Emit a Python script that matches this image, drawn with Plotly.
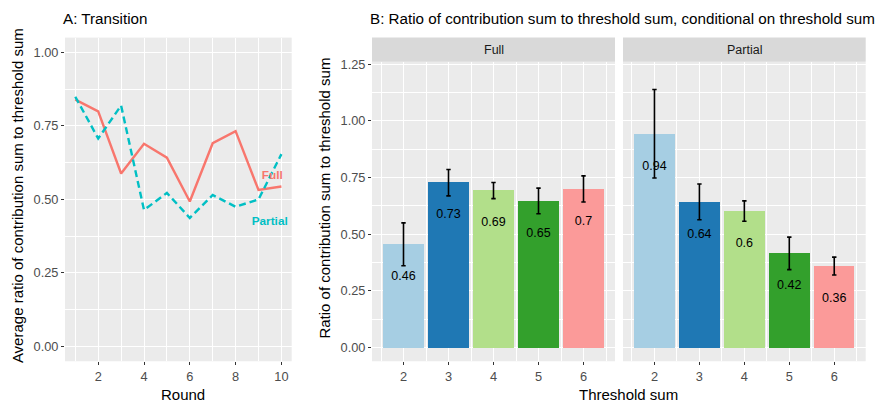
import plotly.graph_objects as go

# ---------------- data ----------------
rounds = [1, 2, 3, 4, 5, 6, 7, 8, 9, 10]
full_round = [0.839, 0.799, 0.588, 0.689, 0.642, 0.493, 0.691, 0.732, 0.532, 0.544]
partial_round = [0.849, 0.707, 0.819, 0.464, 0.522, 0.437, 0.515, 0.475, 0.500, 0.654]

series_labels = ["Full", "Partial"]
label_x = [9.6, 9.49]
label_y = [0.578, 0.422]

thresholds = [2, 3, 4, 5, 6]
full_ratio = [0.456, 0.730, 0.694, 0.648, 0.700]
full_hi = [0.550, 0.785, 0.728, 0.703, 0.757]
full_lo = [0.361, 0.669, 0.657, 0.590, 0.642]
partial_ratio = [0.943, 0.642, 0.603, 0.416, 0.360]
partial_hi = [1.138, 0.721, 0.647, 0.487, 0.399]
partial_lo = [0.748, 0.564, 0.557, 0.344, 0.320]

bar_colors = ["#A6CEE3", "#1F78B4", "#B2DF8A", "#33A02C", "#FB9A99"]
facet_names = ["Full", "Partial"]

W, H = 895, 405
FONT = "Liberation Sans, Arial, sans-serif"


def px(x):
    return x / W


def py(y):
    return 1 - y / H


fig = go.Figure()

# ---------------- Panel A ----------------
fig.add_trace(go.Scatter(x=rounds, y=full_round, mode="lines",
                         line=dict(color="#F8766D", width=2.4),
                         xaxis="x", yaxis="y", showlegend=False))
fig.add_trace(go.Scatter(x=rounds, y=partial_round, mode="lines",
                         line=dict(color="#00BFC4", width=2.4, dash="7px,4px"),
                         xaxis="x", yaxis="y", showlegend=False))
fig.add_trace(go.Scatter(x=label_x, y=label_y, mode="text",
                         text=["<b>%s</b>" % s for s in series_labels],
                         textfont=dict(color=["#F8766D", "#00BFC4"], size=11.8, family=FONT),
                         xaxis="x", yaxis="y", showlegend=False, hoverinfo="skip"))

# ---------------- Panel B ----------------
facet_data = [(full_ratio, full_hi, full_lo), (partial_ratio, partial_hi, partial_lo)]
axes = [("x2", "y2"), ("x3", "y3")]
for (vals, hi, lo), (xa, ya) in zip(facet_data, axes):
    fig.add_trace(go.Bar(x=thresholds, y=vals, width=0.9,
                         marker=dict(color=bar_colors, line=dict(width=0)),
                         xaxis=xa, yaxis=ya, showlegend=False))
    fig.add_trace(go.Scatter(x=thresholds, y=vals, mode="markers",
                             marker=dict(size=0.1, color="rgba(0,0,0,0)"),
                             error_y=dict(type="data", symmetric=False,
                                          array=[h - v for h, v in zip(hi, vals)],
                                          arrayminus=[v - l for v, l in zip(vals, lo)],
                                          color="#000000", thickness=1.6, width=2.2),
                             xaxis=xa, yaxis=ya, showlegend=False, hoverinfo="skip"))
    fig.add_trace(go.Scatter(x=thresholds, y=[v - 0.145 for v in vals], mode="text",
                             text=["%g" % round(v, 2) for v in vals],
                             textfont=dict(color="#000000", size=12.5, family=FONT),
                             xaxis=xa, yaxis=ya, showlegend=False, hoverinfo="skip"))

grid_major = dict(showgrid=True, gridcolor="#FFFFFF", gridwidth=1.3, zeroline=False,
                  ticklen=3, tickwidth=1, tickcolor="#333333",
                  tickfont=dict(size=12.8, color="#4D4D4D", family=FONT), showline=False)

dA_x = [px(65), px(291.7)]
dA_y = [py(360.7), py(33)]
dB_y = [py(360.7), py(57.5)]
dF_x = [px(372), px(615)]
dP_x = [px(623), px(865.7)]

minor = dict(showgrid=True, gridcolor="#FFFFFF", gridwidth=0.6, ticks="")

fig.update_layout(
    width=W, height=H, margin=dict(l=0, r=0, t=0, b=0),
    paper_bgcolor="#FFFFFF", plot_bgcolor="#EBEBEB",
    font=dict(family=FONT, color="#000000"),
    bargap=0,
    xaxis=dict(domain=dA_x, range=[0.55, 10.45], tickvals=[2, 4, 6, 8, 10], ticks="outside",
               minor=dict(tickvals=[1, 3, 5, 7, 9], **minor), anchor="y", **grid_major),
    yaxis=dict(domain=dA_y, range=[-0.05, 1.05], tickvals=[0, 0.25, 0.5, 0.75, 1.0], ticks="outside",
               ticktext=["0.00", "0.25", "0.50", "0.75", "1.00"],
               minor=dict(tickvals=[0.125, 0.375, 0.625, 0.875], **minor), anchor="x", **grid_major),
    xaxis2=dict(domain=dF_x, range=[1.3, 6.7], tickvals=thresholds, ticks="outside",
                minor=dict(tickvals=[1.5, 2.5, 3.5, 4.5, 5.5, 6.5], **minor), anchor="y2", **grid_major),
    yaxis2=dict(domain=dB_y, range=[-0.06, 1.26], tickvals=[0, 0.25, 0.5, 0.75, 1.0, 1.25],
                ticks="outside", ticktext=["0.00", "0.25", "0.50", "0.75", "1.00", "1.25"],
                minor=dict(tickvals=[0.125, 0.375, 0.625, 0.875, 1.125], **minor), anchor="x2", **grid_major),
    xaxis3=dict(domain=dP_x, range=[1.3, 6.7], tickvals=thresholds, ticks="outside",
                minor=dict(tickvals=[1.5, 2.5, 3.5, 4.5, 5.5, 6.5], **minor), anchor="y3", **grid_major),
    yaxis3=dict(domain=dB_y, range=[-0.06, 1.26], tickvals=[0, 0.25, 0.5, 0.75, 1.0, 1.25],
                showticklabels=False, ticks="",
                minor=dict(tickvals=[0.125, 0.375, 0.625, 0.875, 1.125], **minor), anchor="x3", **grid_major),
)

# strips
shapes = []
annotations = []
for name, dx in zip(facet_names, [dF_x, dP_x]):
    shapes.append(dict(type="rect", xref="paper", yref="paper", x0=dx[0], x1=dx[1],
                       y0=py(57.5), y1=py(33), fillcolor="#D9D9D9", line=dict(width=0), layer="below"))
    annotations.append(dict(text=name, xref="paper", yref="paper", x=(dx[0] + dx[1]) / 2, y=py(45.5),
                            showarrow=False, xanchor="center", yanchor="middle",
                            font=dict(size=12.5, color="#1A1A1A", family=FONT)))

# titles
annotations += [
    dict(text="A: Transition", xref="paper", yref="paper", x=px(61), y=py(14), xanchor="left",
         yanchor="middle", showarrow=False, font=dict(size=15.2, color="#000000", family=FONT)),
    dict(text="B: Ratio of contribution sum to threshold sum, conditional on threshold sum",
         xref="paper", yref="paper", x=px(368), y=py(14), xanchor="left",
         yanchor="middle", showarrow=False, font=dict(size=15.2, color="#000000", family=FONT)),
    dict(text="Round", xref="paper", yref="paper", x=px(183), y=py(394), xanchor="center",
         yanchor="middle", showarrow=False, font=dict(size=15, color="#000000", family=FONT)),
    dict(text="Threshold sum", xref="paper", yref="paper", x=px(628), y=py(394), xanchor="center",
         yanchor="middle", showarrow=False, font=dict(size=15, color="#000000", family=FONT)),
    dict(text="Average ratio of contribution sum to threshold sum", xref="paper", yref="paper",
         x=px(17.5), y=py(193), textangle=-90, xanchor="center", yanchor="middle", showarrow=False,
         font=dict(size=15, color="#000000", family=FONT)),
    dict(text="Ratio of contribution sum to threshold sum", xref="paper", yref="paper",
         x=px(325), y=py(196), textangle=-90, xanchor="center", yanchor="middle", showarrow=False,
         font=dict(size=15, color="#000000", family=FONT)),
]
fig.update_layout(shapes=shapes, annotations=annotations)

fig.write_html("out.html")
